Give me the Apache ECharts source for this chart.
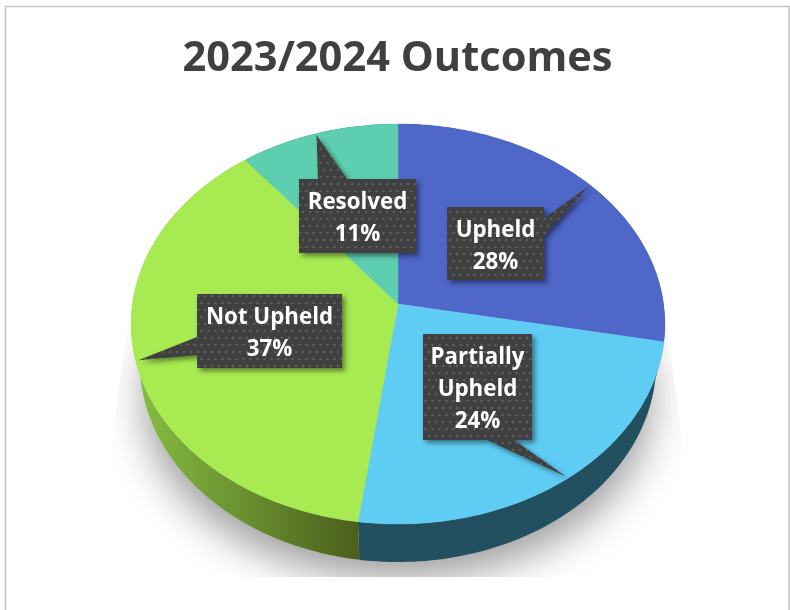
<!DOCTYPE html>
<html>
<head>
<meta charset="utf-8">
<style>html,body{margin:0;padding:0;background:#fff}#c{width:790px;height:610px}</style>
<script src="https://cdn.jsdelivr.net/npm/echarts@6/dist/echarts.min.js"></script>
</head>
<body>
<div id="c"></div>
<script>
const titleText = '2023/2024 Outcomes';
const categories = ['Upheld', 'Partially Upheld', 'Not Upheld', 'Resolved'];
const values = [28, 24, 37, 11];
const faceColors = ['#4E67C8', '#5ECCF3', '#A7EA52', '#5DCEAF'];
const sideColors = ['#2A3A75', '#235061', null, '#2F6F5D'];
// callout boxes: [left, top, right, bottom, side the tail leaves from, tail base start, tail base end]
const boxes = [
  [447, 207, 544, 280, 'right', 218, 236],
  [423, 334, 532, 440, 'bottom', 487, 514],
  [197, 294, 342, 368, 'left', 337, 355],
  [299, 179, 416, 253, 'top', 318, 347]
];
const wrapped = [false, true, false, false];

const APEX_X = 398, APEX_Y = 304, A = 265.5, B = 198, K = -0.1, DEPTH = 38, A_LOW = 257;
// small angular correction of the perspective, degrees: [flat angle, drawn angle]
const VIEW_ANGLES = [[0, 0], [100.8, 100.8], [187.2, 187.8], [320.4, 321.7], [360, 360]];
const total = values.reduce((s, v) => s + v, 0);
const starts = [];
values.reduce((s, v, i) => { starts[i] = s; return s + v; }, 0);

function viewAngle(theta) {
  const d = theta * 180 / Math.PI;
  for (let i = 1; i < VIEW_ANGLES.length; i++) {
    const p = VIEW_ANGLES[i - 1], q = VIEW_ANGLES[i];
    if (d <= q[0] + 1e-9) return (p[1] + (q[1] - p[1]) * (d - p[0]) / (q[0] - p[0])) * Math.PI / 180;
  }
  return theta;
}
function project(theta, r, low) {
  const x = Math.sin(theta) * r, y = -Math.cos(theta) * r, w = 1 + K * y;
  return [APEX_X + (low ? A_LOW : A) * x / w, APEX_Y + (low ? DEPTH : 0) + B * y / w];
}
function arc(i, low) {
  const a0 = starts[i] / total * 2 * Math.PI, a1 = (starts[i] + values[i]) / total * 2 * Math.PI;
  const n = Math.max(8, Math.round(values[i] * 3)), pts = [];
  for (let j = 0; j <= n; j++) pts.push(project(viewAngle(a0 + (a1 - a0) * j / n), 1, low));
  return pts;
}
const ids = values.map((v, i) => [v, i]);

const tile = document.createElement('canvas');
tile.width = 14; tile.height = 14;
(function () {
  const g = tile.getContext('2d');
  g.fillStyle = '#404040'; g.fillRect(0, 0, 14, 14);
  g.fillStyle = '#606060';
  [[2, 2], [9, 2], [5.5, 9], [12.5, 9]].forEach(p => { g.beginPath(); g.arc(p[0], p[1], 1.2, 0, 7); g.fill(); });
})();
const pattern = { image: tile, repeat: 'repeat' };

const chart = echarts.init(document.getElementById('c'), null, { renderer: 'canvas' });
chart.setOption({
  animation: false,
  backgroundColor: '#fff',
  title: {
    text: titleText, left: 392.5, top: 33, textAlign: 'center',
    textStyle: { fontFamily: 'Open Sans', fontWeight: 'bold', fontSize: 41.6, color: '#404040' }
  },
  graphic: [{
    type: 'polyline', silent: true, z: 1,
    shape: { points: [[5.5, 612], [5.5, 6.5], [789, 6.5], [789, 612]] },
    style: { stroke: '#c6c6c6', lineWidth: 1.6, fill: null }
  }],
  series: [
    { // soft ground shadow
      type: 'custom', coordinateSystem: 'none', silent: true, z: 2, data: [0],
      renderItem: () => ({
        type: 'ellipse',
        shape: { cx: 398, cy: 372, rx: 253, ry: 180 },
        style: { fill: '#c6c6c6', shadowColor: '#9c9c9c', shadowBlur: 40, shadowOffsetY: 26 },
        clipPath: {
          type: 'polygon',
          shape: { points: [[127, 330], [668, 330], [682, 440], [700, 577], [96, 577], [113, 430]] }
        }
      })
    },
    { // side walls
      type: 'custom', coordinateSystem: 'none', silent: true, z: 3, data: ids,
      renderItem: (p, api) => {
        const i = api.value(1);
        const pts = arc(i, false).concat(arc(i, true).reverse());
        const fill = sideColors[i] || {
          type: 'linear', x: 140, y: 0, x2: 358, y2: 0, global: true,
          colorStops: [{ offset: 0, color: '#86BC42' }, { offset: 1, color: '#4A5F1C' }]
        };
        return { type: 'polygon', shape: { points: pts }, style: { fill } };
      }
    },
    { // top faces
      type: 'custom', coordinateSystem: 'none', silent: true, z: 4, data: ids,
      renderItem: (p, api) => {
        const i = api.value(1);
        return {
          type: 'polygon',
          shape: { points: [[APEX_X, APEX_Y]].concat(arc(i, false)) },
          style: { fill: faceColors[i], stroke: faceColors[i], lineWidth: 0.4 }
        };
      }
    },
    { // callouts
      type: 'custom', coordinateSystem: 'none', silent: true, z: 5, data: ids,
      renderItem: (p, api) => {
        const i = api.value(1), b = boxes[i];
        const mid = (starts[i] + values[i] / 2) / total * 2 * Math.PI;
        const tip = project(mid, 0.99, false);
        let pts;
        if (b[4] === 'right') pts = [[b[0], b[1]], [b[2], b[1]], [b[2], b[5]], tip, [b[2], b[6]], [b[2], b[3]], [b[0], b[3]]];
        if (b[4] === 'bottom') pts = [[b[0], b[1]], [b[2], b[1]], [b[2], b[3]], [b[6], b[3]], tip, [b[5], b[3]], [b[0], b[3]]];
        if (b[4] === 'left') pts = [[b[0], b[1]], [b[2], b[1]], [b[2], b[3]], [b[0], b[3]], [b[0], b[6]], tip, [b[0], b[5]]];
        if (b[4] === 'top') pts = [[b[0], b[1]], [b[5], b[1]], tip, [b[6], b[1]], [b[2], b[1]], [b[2], b[3]], [b[0], b[3]]];
        const name = wrapped[i] ? categories[i].replace(' ', '\n') : categories[i];
        return {
          type: 'group',
          children: [
            {
              type: 'polygon', shape: { points: pts },
              style: { fill: pattern, shadowColor: 'rgba(0,0,0,0.45)', shadowBlur: 5, shadowOffsetX: 3, shadowOffsetY: 3 }
            },
            {
              type: 'text', x: (b[0] + b[2]) / 2, y: (b[1] + b[3]) / 2 + 3,
              style: {
                text: name + '\n' + values[i] + '%', fill: '#fff', align: 'center', verticalAlign: 'middle',
                font: 'bold 22.3px "Open Sans"', lineHeight: 32
              }
            }
          ]
        };
      }
    }
  ]
});
</script>
</body>
</html>
